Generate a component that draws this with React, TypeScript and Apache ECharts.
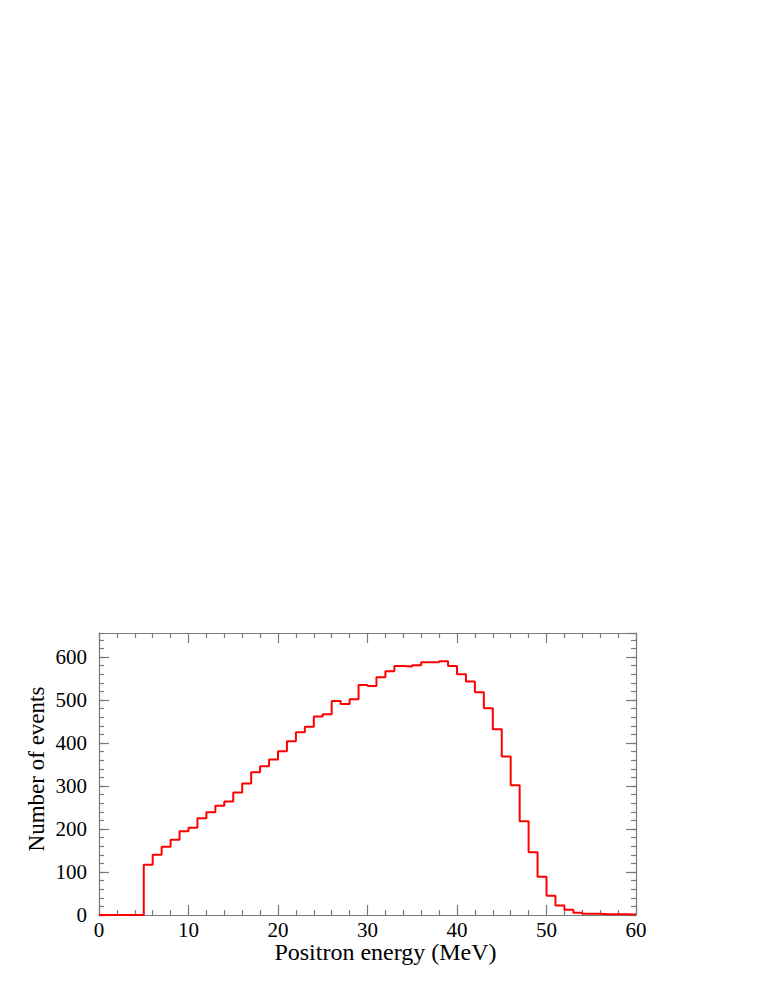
import React, { useEffect, useRef } from "react";
import * as echarts from "echarts";

// Histogram: counts per 1 MeV bin, bins starting at 0, 1, ..., 59
const binEdges: number[] = Array.from({ length: 61 }, (_, i) => i);
const counts: number[] = [
  0, 0, 0, 0, 0, 117, 140, 159, 175, 195,
  203, 225, 239, 254, 264, 285, 306, 332, 346, 362,
  381, 404, 425, 438, 462, 467, 498, 491, 502, 535,
  533, 553, 567, 579, 578, 581, 588, 588, 590, 579,
  560, 543, 518, 481, 432, 369, 302, 218, 146, 89,
  45, 22, 12, 5, 3, 3, 2, 2, 2, 1,
];
const xTitle = "Positron energy (MeV)";
const yTitle = "Number of events";
const xMin = 0, xMax = 60, xMajor = 10;
const yMin = 0, yMax = 656, yMajor = 100, yMinor = 20;

const FONT = "Liberation Serif";
const AX = "#7a7a7a";

export default function App() {
  const ref = useRef<HTMLDivElement>(null);
  useEffect(() => {
    if (!ref.current) return;
    const chart = echarts.init(ref.current, null, { renderer: "svg" });
    const data: [number, number][] = counts.map((c, i) => [binEdges[i], c]);
    data.push([binEdges[counts.length], counts[counts.length - 1]]);

    const xBase = (pos: "bottom" | "top", labels: boolean) => ({
      type: "value",
      position: pos,
      min: xMin,
      max: xMax,
      interval: xMajor,
      axisLine: { show: true, onZero: false, lineStyle: { color: AX, width: 1.2 } },
      axisTick: { show: true, inside: true, length: 10, lineStyle: { color: AX, width: 1.2 } },
      minorTick: { show: true, splitNumber: 5, length: 5, lineStyle: { color: AX, width: 1.2 } },
      splitLine: { show: false },
      axisLabel: { show: labels, fontFamily: FONT, fontSize: 21, lineHeight: 16, color: "#000", margin: 7 },
      ...(labels
        ? {
            name: xTitle,
            nameLocation: "middle",
            nameGap: 27,
            nameMoveOverlap: false,
            nameTextStyle: { fontFamily: FONT, fontSize: 24, lineHeight: 20, color: "#000", padding: [0, 0, 0, 36] },
          }
        : {}),
    });

    const yBase = (pos: "left" | "right", interval: number, len: number, major: boolean, labels: boolean) => ({
      type: "value",
      position: pos,
      min: yMin,
      max: yMax,
      interval,
      axisLine: { show: major, onZero: false, lineStyle: { color: AX, width: 1.2 } },
      axisTick: { show: true, inside: true, length: len, lineStyle: { color: AX, width: 1.2 } },
      splitLine: { show: false },
      axisLabel: { show: labels, showMaxLabel: false, fontFamily: FONT, fontSize: 21, color: "#000", margin: 12 },
      ...(labels
        ? {
            name: yTitle,
            nameLocation: "middle",
            nameGap: 51,
            nameMoveOverlap: false,
            nameTextStyle: { fontFamily: FONT, fontSize: 23, color: "#000", padding: [0, 0, 0, 10] },
          }
        : {}),
    });

    chart.setOption({
      animation: false,
      backgroundColor: "#fff",
      grid: { left: 99, top: 633, width: 537, height: 282, containLabel: false },
      xAxis: [xBase("bottom", true), xBase("top", false)],
      yAxis: [
        yBase("left", yMajor, 10, true, true),
        yBase("left", yMinor, 5, false, false),
        yBase("right", yMajor, 10, true, false),
        yBase("right", yMinor, 5, false, false),
      ],
      series: [
        {
          type: "line",
          xAxisIndex: 0,
          yAxisIndex: 0,
          step: "end",
          data,
          showSymbol: false,
          symbol: "none",
          lineStyle: { color: "#ff0000", width: 2 },
          z: 1,
        },
      ],
    });
    return () => chart.dispose();
  }, []);
  return (
    <div
      ref={ref}
      style={{ position: "absolute", left: 0, top: 0, width: 763, height: 987 }}
    />
  );
}
